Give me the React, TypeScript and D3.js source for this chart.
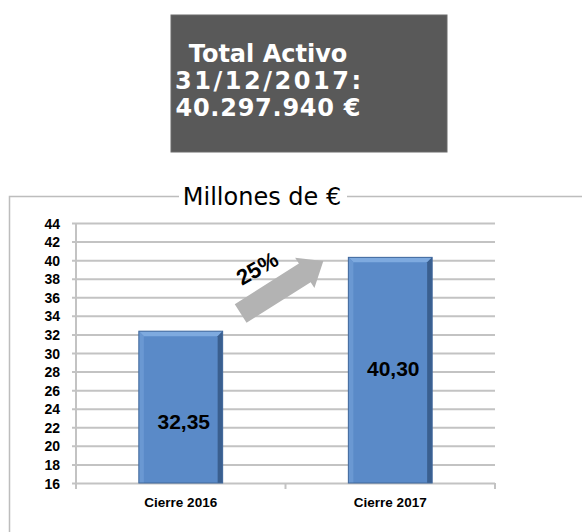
import React, { useEffect, useRef } from 'react';
import * as d3 from 'd3';

// chart values
const categories = ['Cierre 2016', 'Cierre 2017'];
const values = [32.35, 40.3];
const yTicks = [16, 18, 20, 22, 24, 26, 28, 30, 32, 34, 36, 38, 40, 42, 44];
const headerLines = ['Total Activo', '31/12/2017:', '40.297.940 €'];
const chartTitle = 'Millones de €';

const W = 582;
const H = 532;

export const App: React.FC = () => {
  const svgRef = useRef<SVGSVGElement | null>(null);

  useEffect(() => {
    if (!svgRef.current) return;
    const svg = d3.select(svgRef.current);
    svg.selectAll('*').remove();

    const sans = "'Liberation Sans', Arial, sans-serif";
    const verd = "'DejaVu Sans', Verdana, sans-serif";
    const grid = '#c3c3c3';

    // Header box
    svg.append('rect').attr('x', 171).attr('y', 15).attr('width', 276).attr('height', 137)
      .attr('fill', '#595959').attr('stroke', '#6b6b6b').attr('stroke-width', 1);
    const lineLen = [null, 186, 185];
    headerLines.forEach((t, i) => {
      const tx = svg.append('text')
        .attr('x', 268).attr('y', 62 + i * 27)
        .attr('text-anchor', 'middle')
        .attr('font-family', verd).attr('font-weight', 'bold').attr('font-size', 24)
        .attr('fill', '#ffffff')
        .text(t);
      if (lineLen[i]) tx.attr('textLength', lineLen[i] as number).attr('lengthAdjust', 'spacing');
    });

    // Chart frame
    svg.append('path').attr('d', `M${W},196.5 H9.5 V${H}`)
      .attr('fill', 'none').attr('stroke', '#bdbdbd').attr('stroke-width', 1.5);

    // Title with white background over the frame
    svg.append('rect').attr('x', 179).attr('y', 184).attr('width', 168).attr('height', 26).attr('fill', '#fff');
    svg.append('text').attr('x', 262).attr('y', 205).attr('text-anchor', 'middle')
      .attr('font-family', verd).attr('font-size', 24).attr('fill', '#000').text(chartTitle);

    // Scales
    const plot = { left: 76, right: 495, top: 223, bottom: 483 };
    const y = d3.scaleLinear().domain([16, 44]).range([plot.bottom, plot.top]);
    const x = d3.scaleBand<string>().domain(categories)
      .range([plot.left, plot.right]).paddingInner(0.6).paddingOuter(0.3);

    // Y axis with gridlines
    const yAxis = d3.axisLeft(y).tickValues(yTicks)
      .tickSize(-(plot.right - 72)).tickPadding(12).tickFormat(d3.format('d'));
    const gy = svg.append('g').attr('transform', 'translate(72,0)').call(yAxis);
    gy.select('.domain').remove();
    gy.selectAll('line').attr('stroke', grid).attr('stroke-width', 2);
    gy.selectAll('text').attr('font-family', sans).attr('font-weight', 'bold')
      .attr('font-size', 14).attr('fill', '#000').attr('dy', '0.36em');

    // vertical axis line
    svg.append('line').attr('x1', plot.left).attr('x2', plot.left)
      .attr('y1', plot.top).attr('y2', plot.bottom + 6)
      .attr('stroke', grid).attr('stroke-width', 2);

    // category ticks at band boundaries
    const step = x.step();
    d3.range(categories.length + 1).forEach((i) => {
      const tx = plot.left + i * step;
      svg.append('line').attr('x1', tx).attr('x2', tx)
        .attr('y1', plot.bottom).attr('y2', plot.bottom + 6)
        .attr('stroke', grid).attr('stroke-width', 2);
    });

    // category labels
    svg.append('g').selectAll('text').data(categories).join('text')
      .attr('x', (d) => (x(d) as number) + x.bandwidth() / 2)
      .attr('y', 507)
      .attr('text-anchor', 'middle')
      .attr('font-family', sans).attr('font-weight', 'bold').attr('font-size', 13.5)
      .attr('fill', '#000')
      .text((d) => d);

    // Arrow (gray, between the bars)
    const t0: [number, number] = [(x(categories[0]) as number) + x.bandwidth() + 18, y(34.25)];
    const t1: [number, number] = [(x(categories[1]) as number) - 25, y(39.9)];
    const ang = (Math.atan2(t1[1] - t0[1], t1[0] - t0[0]) * 180) / Math.PI;
    const L = Math.hypot(t1[0] - t0[0], t1[1] - t0[1]);
    const sw = 11;
    const hw = 18;
    const hl = 22;
    svg.append('path')
      .attr('transform', `translate(${t0[0]},${t0[1]}) rotate(${ang})`)
      .attr('d', `M0,${-sw} L${L - hl},${-sw} L${L - hl},${-hw} L${L},0 L${L - hl},${hw} L${L - hl},${sw} L0,${sw} Z`)
      .attr('fill', '#b3b3b3');

    const pct = d3.format('.0%')(values[1] / values[0] - 1);
    svg.append('text')
      .attr('transform', `translate(261,275) rotate(-30)`)
      .attr('text-anchor', 'middle')
      .attr('font-family', sans).attr('font-weight', 'bold').attr('font-size', 22)
      .attr('fill', '#000')
      .text(pct);

    // Bars with bevel
    const bars = svg.append('g');
    const b = 5;
    categories.forEach((c, i) => {
      const x0 = x(c) as number;
      const x1 = x0 + x.bandwidth();
      const y0 = y(values[i]);
      const y1 = plot.bottom;
      const g = bars.append('g');
      g.append('rect').attr('x', x0).attr('y', y0).attr('width', x1 - x0).attr('height', y1 - y0)
        .attr('fill', '#5a8ac8');
      // top bevel
      g.append('path').attr('d', `M${x0},${y0} L${x1},${y0} L${x1 - b},${y0 + b} L${x0 + b},${y0 + b} Z`)
        .attr('fill', '#7eaadf');
      // left bevel
      g.append('path').attr('d', `M${x0},${y0} L${x0 + b},${y0 + b} L${x0 + b},${y1} L${x0},${y1} Z`)
        .attr('fill', '#6a98d2');
      // right bevel
      g.append('path').attr('d', `M${x1},${y0} L${x1 - b},${y0 + b} L${x1 - b},${y1} L${x1},${y1} Z`)
        .attr('fill', '#3a5f8f');
      g.append('rect').attr('x', x0).attr('y', y0).attr('width', x1 - x0).attr('height', y1 - y0)
        .attr('fill', 'none').attr('stroke', '#41689b').attr('stroke-width', 1);
    });

    // value labels
    const labelDy = [14, -2];
    const fmt = (v: number) => v.toFixed(2).replace('.', ',');
    svg.append('g').selectAll('text').data(values).join('text')
      .attr('x', (_d, i) => (x(categories[i]) as number) + x.bandwidth() / 2 + 3)
      .attr('y', (d, i) => (y(d) + plot.bottom) / 2 + labelDy[i])
      .attr('dy', '0.36em')
      .attr('text-anchor', 'middle')
      .attr('font-family', sans).attr('font-weight', 'bold').attr('font-size', 21)
      .attr('fill', '#000')
      .text((d) => fmt(d));
  }, []);

  return (
    <svg
      ref={svgRef}
      width={W}
      height={H}
      style={{ position: 'absolute', left: 0, top: 0, background: '#fff' }}
    />
  );
};

export default App;
